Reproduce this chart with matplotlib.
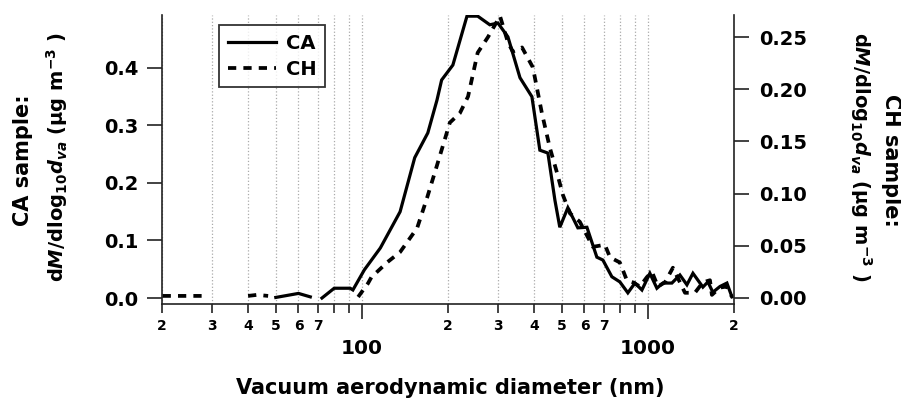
import numpy as np
import matplotlib
matplotlib.use('Agg')
import matplotlib.pyplot as plt
from matplotlib.ticker import FixedLocator, FixedFormatter
from matplotlib.lines import Line2D

nan = np.nan

# CA sample size distribution (left axis)
ca_d = [50, 60, 66, 69, 72.5, 80, 91, 93, 102, 116, 136, 153, 170, 183, 190,
        208, 233, 254, 280, 299, 324, 357, 393, 419, 447, 473, 492, 525, 569,
        612, 663, 696, 748, 798, 851, 901, 953, 1016, 1075, 1128, 1213, 1294,
        1369, 1437, 1557, 1621, 1687, 1786, 1889, 1967]
ca_m = [0.001, 0.008, 0.002, nan, 0.0, 0.017, 0.017, 0.014, 0.049, 0.087,
        0.150, 0.244, 0.287, 0.344, 0.379, 0.405, 0.49, 0.49, 0.475, 0.478,
        0.454, 0.383, 0.350, 0.257, 0.252, 0.170, 0.123, 0.157, 0.122, 0.123,
        0.071, 0.066, 0.037, 0.028, 0.009, 0.026, 0.014, 0.043, 0.017, 0.026,
        0.026, 0.040, 0.023, 0.043, 0.019, 0.028, 0.010, 0.020, 0.026, 0.002]

# CH sample size distribution (right axis)
ch_d = [20.1, 27.8, 33, 40, 43, 47, 70, 97, 105, 108, 123, 136, 156, 169,
        183, 203, 220, 235, 254, 276, 304, 324, 337, 363, 396, 426, 454, 481,
        504, 534, 578, 642, 707, 737, 798, 844, 886, 938, 992, 1033, 1084,
        1147, 1223, 1294, 1348, 1460, 1557, 1648, 1674, 1786, 1889, 1967]
ch_m = [0.002, 0.002, nan, 0.002, 0.003, 0.002, nan, 0.001, 0.014, 0.020,
        0.0345, 0.044, 0.067, 0.096, 0.127, 0.168, 0.177, 0.193, 0.235, 0.250,
        0.270, 0.245, 0.236, 0.240, 0.221, 0.177, 0.144, 0.120, 0.099, 0.081,
        0.073, 0.049, 0.051, 0.039, 0.034, 0.017, 0.015, 0.011, 0.020, 0.025,
        0.011, 0.015, 0.029, 0.015, 0.005, 0.005, 0.015, 0.017, 0.003, 0.010,
        0.011, 0.001]

x_major = [100, 1000]
x_minor = [20, 30, 40, 50, 60, 70, 80, 90, 200, 300, 400, 500, 600, 700,
           800, 900, 2000]
x_minor_labels = ['2', '3', '4', '5', '6', '7', '', '', '2', '3', '4', '5',
                  '6', '7', '', '', '2']
left_ticks = [0.0, 0.1, 0.2, 0.3, 0.4]
right_ticks = [0.0, 0.05, 0.10, 0.15, 0.20, 0.25]

plt.rcParams['font.family'] = 'DejaVu Sans'
plt.rcParams['font.weight'] = 'bold'
plt.rcParams['mathtext.fontset'] = 'custom'
plt.rcParams['mathtext.rm'] = 'DejaVu Sans:bold'
plt.rcParams['mathtext.it'] = 'DejaVu Sans:bold:italic'
plt.rcParams['mathtext.bf'] = 'DejaVu Sans:bold'

W, H = 901, 405
fig = plt.figure(figsize=(W / 100, H / 100), dpi=100)
ax = fig.add_axes([162 / W, 1 - 304 / H, 572 / W, 289 / H])
ax2 = ax.twinx()

spine_c = '#222222'
for a in (ax, ax2):
    a.spines['top'].set_visible(False)
    for s in a.spines.values():
        s.set_linewidth(1.2)
        s.set_color(spine_c)
ax.spines['right'].set_visible(False)
ax2.spines['left'].set_visible(False)
ax2.spines['bottom'].set_visible(False)

ax.set_xscale('log')
ax.set_xlim(20, 2000)
ax.set_ylim(-0.0104, 0.492)
ax2.set_ylim(-0.00575, 0.2711)

ax.xaxis.set_major_locator(FixedLocator(x_major))
ax.xaxis.set_major_formatter(FixedFormatter([str(v) for v in x_major]))
ax.xaxis.set_minor_locator(FixedLocator(x_minor))
ax.xaxis.set_minor_formatter(FixedFormatter(x_minor_labels))
ax.tick_params(axis='x', which='major', direction='out', length=11, width=1.2,
               pad=14, labelsize=14.5, color=spine_c)
ax.tick_params(axis='x', which='minor', direction='out', length=6.5, width=1.2,
               pad=4, labelsize=10, color=spine_c)

ax.set_yticks(left_ticks)
ax.set_yticklabels(['%.1f' % v for v in left_ticks])
ax.tick_params(axis='y', direction='out', length=11, width=1.2, pad=6,
               labelsize=14, color=spine_c)
ax2.set_yticks(right_ticks)
ax2.set_yticklabels(['%.2f' % v for v in right_ticks])
ax2.tick_params(axis='y', direction='out', length=11, width=1.2, pad=7,
                labelsize=14, color=spine_c)

ax.grid(True, which='both', axis='x', color='#aaaaaa', linestyle=':',
        linewidth=0.9)
ax.set_axisbelow(True)

ax.plot(ca_d, ca_m, color='black', linewidth=2.3, solid_joinstyle='miter')
ax2.plot(ch_d, ch_m, color='black', linewidth=2.7, linestyle=(0, (2.2, 1.9)))

handles = [Line2D([], [], color='black', linewidth=2.3),
           Line2D([], [], color='black', linewidth=2.7,
                  linestyle=(0, (2.2, 1.9)))]
leg = ax2.legend(handles, ['CA', 'CH'], loc='upper left',
                 bbox_to_anchor=((219 - 162) / 572, (304 - 25) / 289),
                 borderaxespad=0, frameon=True, fancybox=False,
                 prop={'size': 14, 'weight': 'bold'}, handlelength=2.5,
                 handletextpad=0.5, labelspacing=0.35, borderpad=0.45)
leg.get_frame().set_edgecolor('black')
leg.get_frame().set_linewidth(1.3)

ylab2 = r'd$M$/dlog$_{\mathrm{10}}$$d_{va}$ (μg m$^{\mathrm{-3}}$ )'
fig.text(23 / W, 1 - 160 / H, 'CA sample:', rotation=90, ha='center',
         va='center', fontsize=15, fontweight='bold')
fig.text(57 / W, 1 - 157 / H, ylab2, rotation=90, ha='center',
         va='center', fontsize=14, fontweight='bold')
fig.text(891 / W, 1 - 160 / H, 'CH sample:', rotation=270, ha='center',
         va='center', fontsize=15, fontweight='bold')
fig.text(861 / W, 1 - 157 / H, ylab2, rotation=270, ha='center',
         va='center', fontsize=14, fontweight='bold')

fig.text(450 / W, 1 - 388 / H, 'Vacuum aerodynamic diameter (nm)',
         ha='center', va='center', fontsize=15, fontweight='bold')

fig.savefig('out.png', dpi=100)
